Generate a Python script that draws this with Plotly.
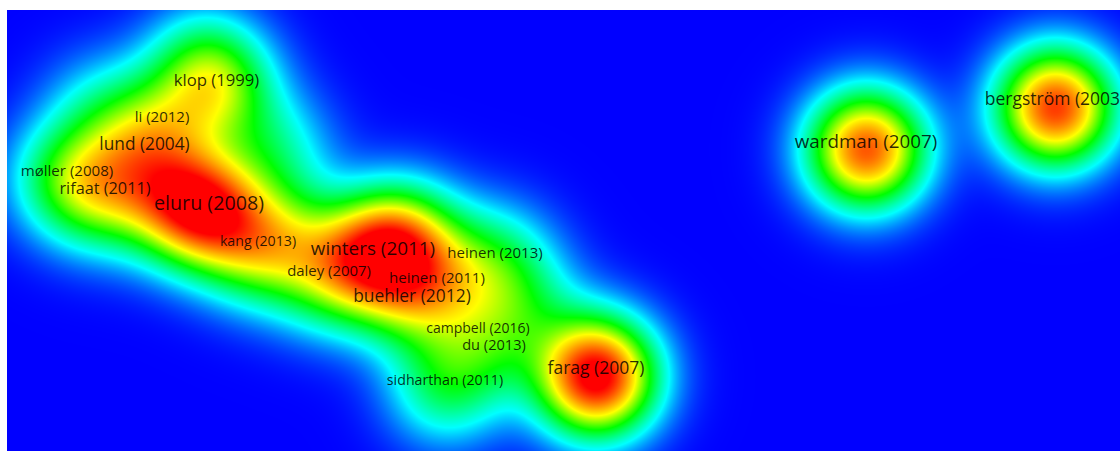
import numpy as np
import plotly.graph_objects as go

# Items on the map (map coordinates, y pointing up); unlabeled items have ""
labels = [
    "klop (1999)", "li (2012)", "lund (2004)", "møller (2008)", "rifaat (2011)",
    "eluru (2008)", "kang (2013)", "winters (2011)", "heinen (2013)", "daley (2007)",
    "heinen (2011)", "buehler (2012)", "campbell (2016)", "du (2013)",
    "sidharthan (2011)", "farag (2007)", "wardman (2007)", "bergström (2003)",
    "", "", "", "", "", "", "",
]
x_pos = [2.095, 1.55, 1.375, 0.60, 0.98, 2.02, 2.51, 3.66, 4.88, 3.22,
         4.30, 4.05, 4.71, 4.87, 4.38, 5.89, 8.59, 10.48,
         5.18, 2.68, 1.68, 2.88, 3.98, 1.93, 0.93]
y_pos = [3.63, 3.27, 2.99, 2.73, 2.55, 2.40, 2.03, 1.95, 1.91, 1.73,
         1.66, 1.47, 1.16, 0.99, 0.64, 0.75, 3.02, 3.44,
         1.45, 3.01, 2.48, 2.13, 2.13, 3.91, 3.41]
weights = [0.42, 0.22, 0.30, 0.34, 0.34, 0.67, 0.40, 0.60, 0.28, 0.30,
           0.28, 0.22, 0.12, 0.12, 0.30, 1.05, 0.88, 0.92,
           0.20, 0.22, 0.40, 0.20, 0.45, 0.20, 0.18]
font_px = [16.7, 15.0, 17.3, 15.1, 16.3, 19.7, 14.2, 18.9, 15.0, 14.9,
           15.1, 17.4, 14.0, 14.6, 14.2, 17.5, 18.8, 17.5,
           10, 10, 10, 10, 10, 10, 10]

X_MAX, Y_MAX = 11.13, 4.41
BANDWIDTH = 0.40
LABEL_LIFT = 0.06

# Kernel density over the map
gx = np.arange(0.0, X_MAX + 0.03, 0.03)
gy = np.arange(0.0, Y_MAX + 0.03, 0.03)
GX, GY = np.meshgrid(gx, gy)
density = np.zeros_like(GX)
for xi, yi, wi in zip(x_pos, y_pos, weights):
    density += wi * np.exp(-((GX - xi) ** 2 + (GY - yi) ** 2) / (2 * BANDWIDTH ** 2))

colorscale = [
    [0.00, "rgb(0,0,255)"],
    [0.20, "rgb(0,255,255)"],
    [0.43, "rgb(0,255,0)"],
    [0.65, "rgb(255,255,0)"],
    [1.00, "rgb(255,0,0)"],
]

shown = [i for i, t in enumerate(labels) if t]

fig = go.Figure()
fig.add_trace(go.Heatmap(
    x=gx, y=gy, z=density, zmin=0, zmax=1.0, zsmooth="best",
    colorscale=colorscale, showscale=False, hoverinfo="skip",
))
fig.add_trace(go.Scatter(
    x=[x_pos[i] for i in shown],
    y=[y_pos[i] + LABEL_LIFT for i in shown],
    mode="text", text=[labels[i] for i in shown],
    textposition="middle center",
    textfont=dict(family="Open Sans", size=[font_px[i] for i in shown],
                  color="rgba(0,0,0,0.82)"),
    hoverinfo="skip", showlegend=False, cliponaxis=True,
))
fig.update_layout(
    width=1120, height=451,
    margin=dict(l=7, r=0, t=10, b=0),
    paper_bgcolor="white", plot_bgcolor="rgb(0,0,255)",
    xaxis=dict(range=[0, X_MAX], visible=False, fixedrange=True),
    yaxis=dict(range=[0, Y_MAX], visible=False, fixedrange=True),
    showlegend=False,
)
fig.write_html("out.html")
